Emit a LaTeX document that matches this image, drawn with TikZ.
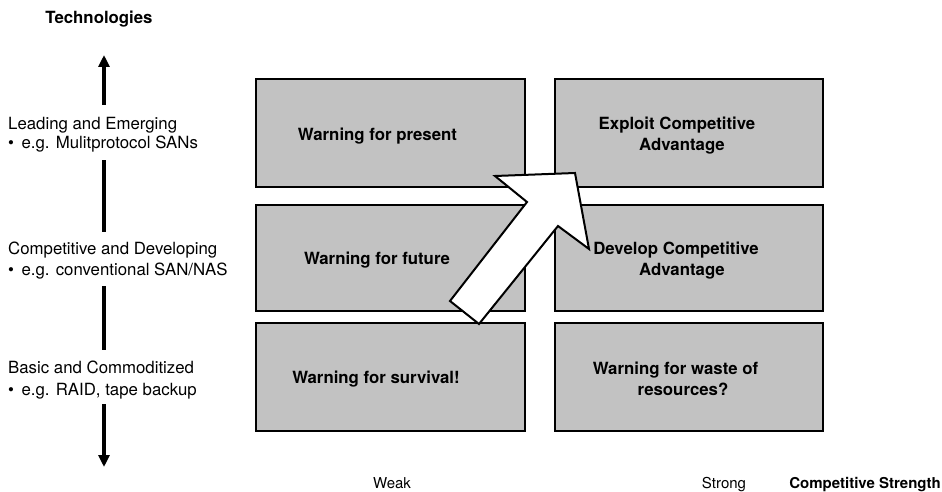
\documentclass[tikz,border=0pt]{standalone}
\usepackage{fontspec}
\setmainfont{TeX Gyre Heros}
\usetikzlibrary{arrows.meta}
\definecolor{boxgray}{RGB}{194,194,194}
\begin{document}
\begin{tikzpicture}[x=1pt,y=-1pt,
  lbl/.style={inner sep=0pt,font=\fontsize{16.8}{20}\selectfont},
  blbl/.style={inner sep=0pt,font=\fontsize{16.8}{20}\selectfont\bfseries},
  slbl/.style={inner sep=0pt,font=\fontsize{15}{18}\selectfont},
  sblbl/.style={inner sep=0pt,font=\fontsize{15}{18}\selectfont\bfseries},
  quad/.style={draw=black,line width=2pt,fill=boxgray,minimum height=108pt,inner sep=0pt},
  axisline/.style={line width=3.6pt},
  axistip/.style={-{Triangle[width=11pt,length=12pt]}},
  bigarrow/.style={draw=black,line width=2pt,fill=white,line join=miter}]
\useasboundingbox (0,0) rectangle (942,492);

% quadrant boxes
\node[quad,minimum width=269pt] (b11) at (390.5,133) {};
\node[quad,minimum width=269pt,minimum height=106pt] (b21) at (390.5,258) {};
\node[quad,minimum width=269pt] (b31) at (390.5,377) {};
\node[quad,minimum width=268pt] (b12) at (689,133) {};
\node[quad,minimum width=268pt,minimum height=106pt] (b22) at (689,258) {};
\node[quad,minimum width=268pt] (b32) at (689,377) {};

% big white arrow
\coordinate (w1) at (495,176);
\coordinate (w2) at (575,173);
\coordinate (w3) at (589,249);
\coordinate (w4) at (558,226);
\coordinate (w5) at (479,324);
\coordinate (w6) at (450,301);
\coordinate (w7) at (527,202);
\draw[bigarrow] (w1) -- (w2) -- (w3) -- (w4) -- (w5) -- (w6) -- (w7) -- cycle;

% box texts
\node[blbl,anchor=base] (t11) at (377.5,140) {Warning for present};
\node[blbl,anchor=base] (t21) at (377,264) {Warning for future};
\node[blbl,anchor=base] (t31) at (376,383) {Warning for survival!};
\node[blbl,anchor=base] (t12a) at (677,129) {Exploit Competitive};
\node[blbl,anchor=base] (t12b) at (682,150) {Advantage};
\node[blbl,anchor=base] (t22a) at (676,254) {Develop Competitive};
\node[blbl,anchor=base] (t22b) at (682,275) {Advantage};
\node[blbl,anchor=base] (t32a) at (675.5,374) {Warning for waste of};
\node[blbl,anchor=base] (t32b) at (683,395) {resources?};

% vertical axis
\node[blbl,anchor=base] (tech) at (99,24) {Technologies};
\node[lbl,anchor=base west] (l1a) at (8,129) {Leading and Emerging};
\node[lbl,anchor=base west] (l1b) at (8,149) {•\hspace{7.5pt}e.g. Mulitprotocol SANs};
\node[lbl,anchor=base west] (l2a) at (8,254) {Competitive and Developing};
\node[lbl,anchor=base west] (l2b) at (8,275) {•\hspace{7.5pt}e.g. conventional SAN/NAS};
\node[lbl,anchor=base west] (l3a) at (8,373) {Basic and Commoditized};
\node[lbl,anchor=base west] (l3b) at (8,395) {•\hspace{7.5pt}e.g. RAID, tape backup};

\coordinate (atop) at (104,55);
\coordinate (s1) at (104,105);
\coordinate (s2) at (104,160);
\coordinate (s3) at (104,232);
\coordinate (s4) at (104,286);
\coordinate (s5) at (104,350);
\coordinate (s6) at (104,404);
\coordinate (abot) at (104,467);
\draw[axisline,axistip] (s1) -- (atop);
\draw[axisline] (s2) -- (s3);
\draw[axisline] (s4) -- (s5);
\draw[axisline,axistip] (s6) -- (abot);

% horizontal axis labels
\node[slbl,anchor=base] (weak) at (392,488) {Weak};
\node[slbl,anchor=base] (strong) at (724,488) {Strong};
\node[sblbl,anchor=base east] (cs) at (941,488) {Competitive Strength};
\end{tikzpicture}
\end{document}
